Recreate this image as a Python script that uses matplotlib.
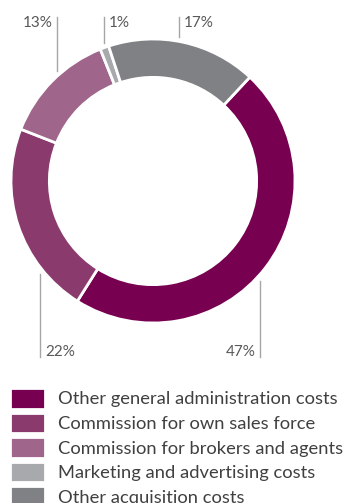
import matplotlib
matplotlib.use("Agg")
import numpy as np
import matplotlib.pyplot as plt

plt.rcParams['font.family'] = ['Lato', 'DejaVu Sans']

categories = ["Other general administration costs",
              "Commission for own sales force",
              "Commission for brokers and agents",
              "Marketing and advertising costs",
              "Other acquisition costs"]
shares = [47, 22, 13, 1, 17]
pct_labels = ["47%", "22%", "13%", "1%", "17%"]
colors = ["#780050", "#8b3a6e", "#a0658a", "#a8a9ad", "#808185"]

# layout of the leader lines (x in pie radius units, label side)
leader_x = [0.754, -0.796, -0.676, -0.345, 0.183]
leader_side = ["bottom", "bottom", "top", "top", "top"]
label_ha = ["right", "left", "right", "left", "left"]

W, H = 346, 503
CX, CY, R = 153, 181, 142  # pie centre and radius in pixels

fig = plt.figure(figsize=(W / 100, H / 100), dpi=100)
ax = fig.add_axes([0, 0, 1, 1])
ax.axis('off')

wedges, _ = ax.pie(shares, colors=colors, startangle=47, counterclock=False,
                   radius=1, wedgeprops=dict(width=0.27, edgecolor='white', linewidth=2))
ax.set_xlim(-CX / R, (W - CX) / R)
ax.set_ylim(-(H - CY) / R, CY / R)

top_y = (CY - 17) / R
bot_y = -(357 - CY) / R
for x, side, ha, lab in zip(leader_x, leader_side, label_ha, pct_labels):
    ring_y = np.sqrt(1.03 ** 2 - x ** 2)
    dx = -4 / R if ha == "right" else 5 / R
    if side == "top":
        ax.plot([x, x], [ring_y, top_y], color='#a6a6a6', lw=1)
        ax.text(x + dx, top_y + 1 / R, lab, ha=ha, va='top', fontsize=11, color='#595959')
    else:
        ax.plot([x, x], [-ring_y, bot_y], color='#a6a6a6', lw=1)
        ax.text(x + dx, bot_y + 1 / R, lab, ha=ha, va='baseline', fontsize=11, color='#595959')

fig.legend(wedges, categories, loc='upper left', bbox_to_anchor=(10 / W, 1 - 388 / H),
           frameon=False, fontsize=13.2, handlelength=1.91, handleheight=1.35,
           handletextpad=0.71, labelspacing=0.22, borderpad=0, borderaxespad=0,
           labelcolor='#404040')

fig.savefig('out.png', dpi=100)
